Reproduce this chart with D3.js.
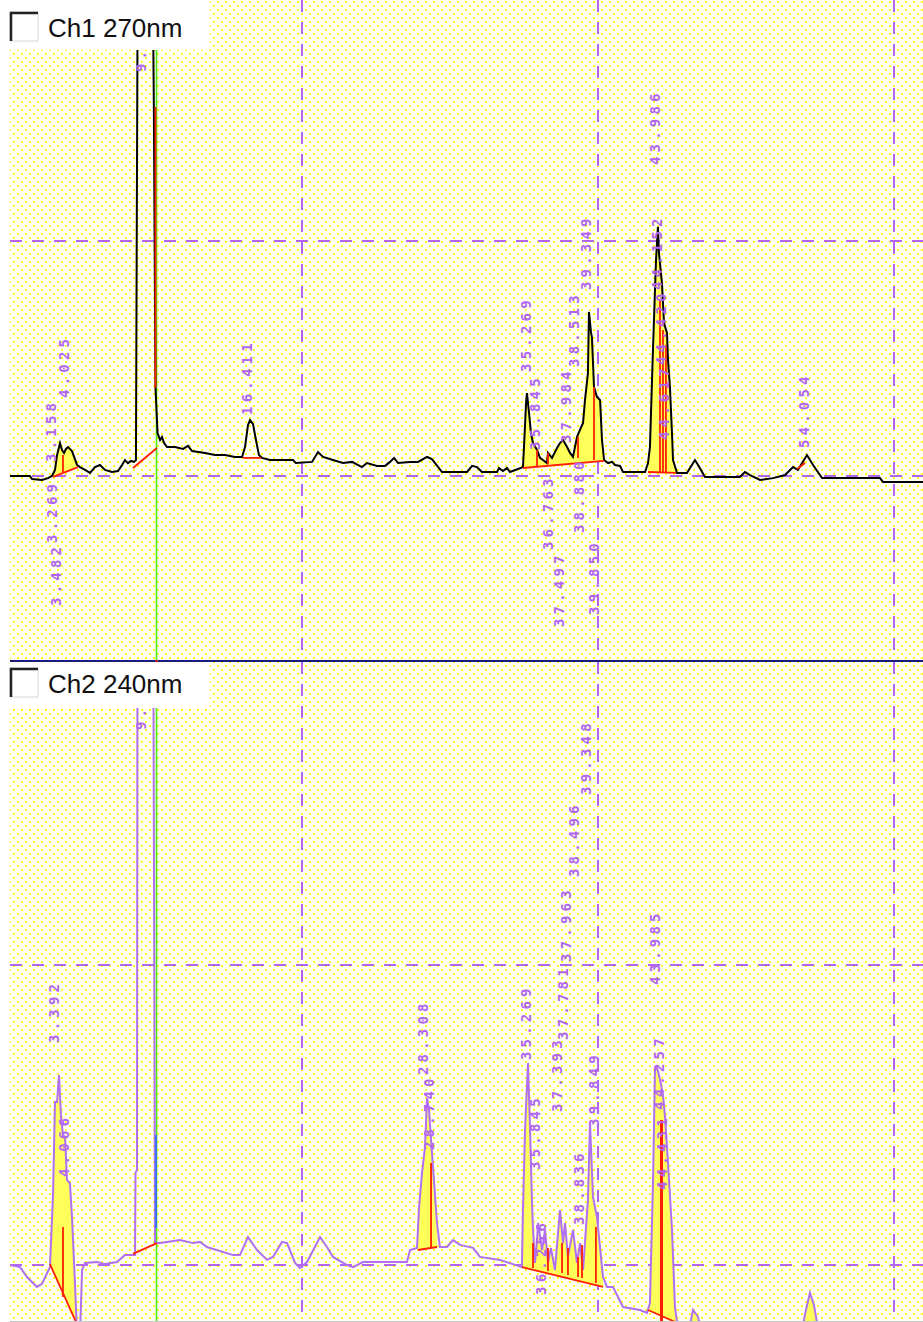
<!DOCTYPE html>
<html>
<head>
<meta charset="utf-8">
<script src="https://cdnjs.cloudflare.com/ajax/libs/d3/7.8.5/d3.min.js"></script>
<style>
  html, body { margin: 0; padding: 0; background: #fff; }
  svg { display: block; }
</style>
</head>
<body>
<div id="chart"></div>
<script>
// ---- chromatogram data: retention time (min), signal (mAU) ----
const timeGrid = [20, 40, 60];
const ch1Grid = [0, 100];
const ch2Grid = [0, 100];

const ch1Title = "Ch1 270nm";
const ch2Title = "Ch2 240nm";

// Ch1 (270 nm) detector trace
const ch1Trace = [[0.27,0],[1.62,0],[1.76,-1.3],[2.43,-1.7],[2.84,-0.9],[3.11,0],[3.31,2.6],[3.45,8.9],[3.65,14.0],[3.78,11.1],[3.92,9.8],[4.05,11.5],[4.19,12.3],[4.46,10.6],[4.80,4.7],[5.00,3.8],[5.34,2.6],[5.68,1.3],[6.01,3.8],[6.35,4.7],[6.69,2.6],[7.16,1.7],[7.57,2.1],[7.84,4.7],[8.04,6.8],[8.24,5.5],[8.45,6.4],[8.65,6.0],[8.78,6.8],[8.92,250],[9.86,250],[9.99,157.0],[10.10,37.4],[10.24,18.3],[10.41,15.3],[10.54,16.6],[10.68,14.0],[10.88,12.3],[11.42,12.3],[11.96,11.5],[12.30,12.8],[12.57,10.6],[13.45,9.8],[14.12,8.9],[14.80,8.9],[15.47,8.1],[15.95,8.1],[16.15,12.3],[16.35,21.7],[16.49,23.8],[16.69,22.1],[16.89,15.3],[17.09,8.9],[17.30,7.7],[17.84,6.8],[19.39,6.8],[19.59,5.5],[20.68,6.0],[21.08,10.2],[21.42,8.1],[22.09,6.8],[22.77,5.5],[23.38,6.0],[24.05,3.8],[24.39,5.5],[25.07,4.3],[25.61,4.3],[25.95,6.0],[26.22,7.7],[26.49,5.5],[27.30,6.0],[27.84,6.0],[28.45,8.1],[28.78,7.2],[29.46,1.7],[31.15,1.7],[31.49,4.3],[31.82,3.8],[32.16,1.7],[33.18,1.7],[33.31,3.4],[33.58,2.1],[33.85,3.4],[34.05,1.7],[34.59,3.0],[34.93,3.8],[35.00,12.3],[35.14,31.1],[35.20,35.3],[35.34,26.8],[35.47,18.3],[35.61,14.0],[35.88,11.1],[36.08,7.7],[36.28,6.8],[36.55,5.5],[36.62,9.8],[36.89,7.7],[37.23,11.9],[37.43,14.0],[37.64,15.3],[37.91,12.3],[38.11,9.8],[38.31,8.1],[38.58,16.6],[38.78,19.6],[38.99,22.6],[39.12,32.3],[39.32,43.8],[39.39,69.8],[39.53,60.9],[39.59,59.1],[39.73,37.9],[39.93,33.6],[40.14,32.3],[40.27,15.3],[40.41,6.8],[40.68,5.5],[40.95,6.0],[41.15,4.7],[41.49,4.3],[41.69,1.7],[43.18,1.7],[43.38,5.5],[43.51,12.3],[43.65,40.9],[43.72,54.9],[43.92,91.9],[44.05,106.0],[44.12,94.9],[44.32,82.1],[44.46,65.1],[44.66,60.9],[44.73,49.4],[44.86,37.9],[45.00,18.3],[45.07,6.8],[45.34,1.3],[46.01,1.3],[46.55,6.8],[46.76,4.7],[47.23,-0.4],[49.59,-0.4],[49.93,1.7],[50.27,0.4],[50.95,-1.7],[51.82,-0.9],[52.64,0.4],[53.18,3.8],[53.51,2.6],[54.12,8.9],[54.53,4.7],[55.14,-0.9],[59.05,-0.9],[59.26,-2.6],[61.96,-2.6]];

// Ch2 (240 nm) detector trace
const ch2Trace = [[0.27,0],[0.95,-0.7],[1.42,-4.0],[2.09,-7.3],[2.43,-6.3],[2.97,-0.7],[3.18,24.0],[3.31,54.3],[3.45,54.3],[3.58,63.3],[3.72,49.3],[3.85,43.3],[3.99,42.7],[4.12,28.3],[4.32,27.3],[4.46,16.0],[4.66,-6.0],[4.80,-23.3],[5.00,-23.3],[5.14,-1.7],[5.34,0.7],[6.15,1.0],[6.69,0.3],[7.50,1.0],[8.04,3.3],[8.58,3.3],[8.72,3.3],[8.75,30.7],[8.85,31.7],[8.89,250],[9.93,250],[10.07,7.3],[10.41,7.3],[11.76,8.3],[12.64,7.3],[13.11,7.7],[13.58,6.0],[15.34,3.3],[15.81,3.3],[16.35,9.3],[16.96,5.0],[17.64,1.7],[18.04,2.7],[18.65,7.7],[18.99,7.3],[19.53,0.7],[19.86,-1.0],[20.34,1.0],[21.22,9.3],[21.69,6.0],[22.09,2.7],[23.04,0],[23.45,-0.7],[24.12,1.0],[27.09,1.0],[27.30,5.0],[27.77,5.7],[27.91,19.3],[28.11,30.7],[28.31,39.3],[28.45,55.7],[28.58,51.7],[28.72,41.7],[28.85,32.7],[29.12,14.0],[29.32,6.0],[29.80,6.0],[30.20,8.3],[30.68,6.7],[31.55,5.7],[32.03,2.7],[33.38,1.7],[34.86,-0.7],[34.93,18.3],[35.07,45.0],[35.27,67.3],[35.41,45.0],[35.54,20.7],[35.61,11.7],[35.74,0.7],[35.88,8.3],[35.95,14.0],[36.22,5.0],[36.42,11.7],[36.62,0.7],[36.82,5.7],[37.09,-1.7],[37.43,18.3],[37.64,7.3],[37.77,14.0],[37.97,2.7],[38.31,11.7],[38.58,0.7],[38.78,7.3],[38.99,-1.7],[39.32,21.7],[39.46,47.3],[39.66,22.7],[39.93,16.0],[40.20,2.7],[40.34,-4.0],[40.61,-7.3],[41.01,-7.3],[41.69,-14.0],[42.84,-15.0],[43.31,-16.0],[43.51,-12.7],[43.72,28.3],[43.85,65.0],[43.99,66.0],[44.19,61.7],[44.39,56.7],[44.53,49.3],[44.73,34.0],[45.00,11.7],[45.20,-14.0],[45.41,-21.7],[46.08,-23.3],[46.42,-15.0],[46.76,-17.3],[47.03,-23.3],[53.65,-25.0],[54.05,-15.0],[54.32,-9.3],[54.59,-13.3],[55.00,-25.0],[61.96,-26.7]];

// integration windows: [start time, end time, baseline at start, baseline at end, filled, baseline drawn]
const ch1Peaks = [[3.18,4.86,-0.4,3.8,1,1],[8.58,10.20,3.4,11.9,0,1],[16.01,17.23,7.7,7.7,0,1],[34.93,40.41,3.4,6.4,1,1],[43.38,45.27,1.7,1.3,1,1],[53.45,53.99,3.0,5.5,1,1]];
const ch2Peaks = [[2.97,4.73,0.3,-19.0,1,1],[8.58,10.20,3.7,7.3,0,1],[27.84,29.12,5.0,6.0,1,1],[34.86,40.34,-0.7,-7.3,1,1],[43.38,45.54,-15.0,-19.7,1,1],[46.08,47.03,-26.7,-26.7,1,0],[53.65,55.14,-26.7,-26.7,1,0]];

// peak separation lines: [time, from, to]
const ch1Drops = [[3.85,1.7,8.9],[10.10,37.4,157.0],[35.88,4.3,11.1],[36.62,5.1,9.8],[38.65,7.7,16.6],[39.73,6.8,37.9],[44.19,1.3,74.9],[44.39,1.3,62.1],[44.59,1.3,55.7]];
const ch2Drops = [[3.85,-10.7,12.7],[28.72,5.7,34.0],[35.61,-1.0,7.3],[36.62,-2.0,5.7],[37.57,-2.7,7.3],[37.97,-3.3,5.7],[38.65,-4.0,2.7],[38.92,-4.3,6.7],[39.86,-6.0,12.7]];
const ch2MainDrop = [44.29,-20.0,48.3];
const ch2SplitDrop = [10.14,43.3,12.3];
const cursorTime = 10.17;

// retention time labels: [time, label anchor level]
const ch1Labels = [[9.264,171.9],[3.158,6.0],[4.025,33.2],[3.482,-55.3],[3.269,-28.5],[16.411,26.0],[35.269,44.3],[35.845,11.1],[36.763,-31.5],[37.497,-64.3],[37.984,14.0],[38.513,46.4],[38.880,-24.3],[39.349,79.1],[39.850,-59.1],[43.986,132.3],[44.152,79.1],[44.420,47.2],[44.617,15.3],[54.054,11.9]];
const ch2Labels = [[9.264,178.3],[3.392,74.0],[4.066,29.3],[28.308,63.3],[28.740,38.3],[35.269,68.3],[35.845,31.7],[36.256,-10.0],[37.393,51.0],[37.781,75.0],[37.963,101.0],[38.496,129.3],[39.348,156.7],[38.836,13.3],[39.849,46.0],[43.985,93.3],[44.257,51.7],[44.431,25.0]];

// ---- drawing ----
const W = 923, H = 1322;
const PURPLE = "#b066f2", RED = "#ff1e00", YELLOW = "#ffff5a", GREEN = "#4de61e";

const svg = d3.select("#chart").append("svg")
  .attr("width", W).attr("height", H)
  .attr("viewBox", `0 0 ${W} ${H}`);

const defs = svg.append("defs");
const pat = defs.append("pattern").attr("id", "dots")
  .attr("width", 8).attr("height", 8).attr("patternUnits", "userSpaceOnUse");
pat.append("rect").attr("width", 8).attr("height", 8).attr("fill", "#fffff2");
pat.append("rect").attr("x", 1).attr("y", 1).attr("width", 2).attr("height", 2).attr("fill", "#ffff20");
pat.append("rect").attr("x", 5).attr("y", 5).attr("width", 2).attr("height", 2).attr("fill", "#ffff20");

const x = d3.scaleLinear().domain([0, 60]).range([6, 894]);

const panels = [
  { id: "p1", top: 0, bottom: 660, y: d3.scaleLinear().domain([0, 100]).range([476, 241]),
    trace: ch1Trace, peaks: ch1Peaks, drops: ch1Drops, labels: ch1Labels, grid: ch1Grid,
    color: "#000", width: 2, title: ch1Title, titleY: 0, boxH: 50 },
  { id: "p2", top: 662, bottom: 1321, y: d3.scaleLinear().domain([0, 100]).range([1265, 965]),
    trace: ch2Trace, peaks: ch2Peaks, drops: ch2Drops, labels: ch2Labels, grid: ch2Grid,
    color: "#b070f6", width: 2, title: ch2Title, titleY: 656, boxH: 46 }
];

svg.append("rect").attr("x", 10).attr("y", 0).attr("width", W - 10).attr("height", H)
  .attr("fill", "url(#dots)");

function valueAt(trace, t) {
  const i = d3.bisector(d => d[0]).right(trace, t);
  if (i <= 0) return trace[0][1];
  if (i >= trace.length) return trace[trace.length - 1][1];
  const a = trace[i - 1], b = trace[i];
  return a[1] + (b[1] - a[1]) * (t - a[0]) / (b[0] - a[0]);
}

panels.forEach(p => {
  defs.append("clipPath").attr("id", "clip-" + p.id)
    .append("rect").attr("x", 10).attr("y", p.top).attr("width", W - 10).attr("height", p.bottom - p.top);

  const g = svg.append("g").attr("clip-path", `url(#clip-${p.id})`);
  const y = p.y;

  // dashed grid
  g.selectAll(".vg").data(timeGrid).join("line")
    .attr("x1", d => x(d)).attr("x2", d => x(d))
    .attr("y1", p.top).attr("y2", p.bottom)
    .attr("stroke", PURPLE).attr("stroke-width", 2).attr("stroke-dasharray", "12,10");
  g.selectAll(".hg").data(p.grid).join("line")
    .attr("x1", 10).attr("x2", W)
    .attr("y1", d => y(d)).attr("y2", d => y(d))
    .attr("stroke", PURPLE).attr("stroke-width", 2).attr("stroke-dasharray", "12,10");

  // cursor
  g.append("line").attr("x1", x(cursorTime)).attr("x2", x(cursorTime))
    .attr("y1", p.top).attr("y2", p.bottom)
    .attr("stroke", GREEN).attr("stroke-width", 1.6);

  // integrated peak areas
  const area = d3.area().x(d => x(d.t)).y0(d => y(d.base)).y1(d => y(d.val));
  p.peaks.filter(k => k[4]).forEach(([t0, t1, b0, b1]) => {
    const ts = [t0, ...p.trace.map(d => d[0]).filter(t => t > t0 && t < t1), t1];
    const pts = ts.map(t => ({ t, base: b0 + (b1 - b0) * (t - t0) / (t1 - t0), val: valueAt(p.trace, t) }));
    g.append("path").attr("d", area(pts)).attr("fill", YELLOW);
  });

  // trace
  const line = d3.line().x(d => x(d[0])).y(d => y(d[1]));
  g.append("path").datum(p.trace).attr("d", line)
    .attr("fill", "none").attr("stroke", p.color).attr("stroke-width", p.width)
    .attr("stroke-linejoin", "miter");

  // baselines
  p.peaks.filter(k => k[5]).forEach(([t0, t1, b0, b1]) => {
    g.append("line").attr("x1", x(t0)).attr("x2", x(t1)).attr("y1", y(b0)).attr("y2", y(b1))
      .attr("stroke", RED).attr("stroke-width", 1.8);
  });

  // drop lines
  g.selectAll(".drop").data(p.drops).join("line")
    .attr("x1", d => x(d[0])).attr("x2", d => x(d[0]))
    .attr("y1", d => y(d[1])).attr("y2", d => y(d[2]))
    .attr("stroke", RED).attr("stroke-width", 1.8);

  if (p.id === "p2") {
    g.append("line").attr("x1", x(ch2MainDrop[0])).attr("x2", x(ch2MainDrop[0]))
      .attr("y1", y(ch2MainDrop[1])).attr("y2", y(ch2MainDrop[2]))
      .attr("stroke", RED).attr("stroke-width", 3);
    g.append("line").attr("x1", x(ch2SplitDrop[0])).attr("x2", x(ch2SplitDrop[0]))
      .attr("y1", y(ch2SplitDrop[1])).attr("y2", y(ch2SplitDrop[2]))
      .attr("stroke", "#2f6fff").attr("stroke-width", 1.8);
  }

  // retention time labels
  g.selectAll(".rt").data(p.labels).join("text")
    .attr("transform", d => `translate(${x(d[0]) + 3},${y(d[1])}) rotate(-90)`)
    .attr("font-family", "'DejaVu Sans Mono', 'Liberation Mono', monospace")
    .attr("font-size", 14).attr("font-weight", "bold").attr("letter-spacing", 4.2)
    .attr("fill", PURPLE)
    .text(d => d[0].toFixed(3));

  // channel title box
  const tb = svg.append("g").attr("transform", `translate(0,${p.titleY})`);
  tb.append("rect").attr("x", 10).attr("y", p.id === "p1" ? 0 : 6).attr("width", 200)
    .attr("height", p.boxH).attr("fill", "#fff");
  tb.append("rect").attr("x", 10).attr("y", 12).attr("width", 28).attr("height", 29)
    .attr("fill", "#fff").attr("stroke", "#d8d8d8").attr("stroke-width", 1);
  tb.append("path").attr("d", "M11,41 V13 H38").attr("fill", "none")
    .attr("stroke", "#222").attr("stroke-width", 2.5);
  tb.append("text").attr("x", 48).attr("y", 37)
    .attr("font-family", "'Liberation Sans', Arial, sans-serif")
    .attr("font-size", 26).attr("fill", "#111")
    .text(p.title);
});

// panel divider and bottom edge
svg.append("line").attr("x1", 10).attr("x2", W).attr("y1", 661).attr("y2", 661)
  .attr("stroke", "#1c1c78").attr("stroke-width", 2);
svg.append("circle").attr("cx", x(cursorTime)).attr("cy", 661).attr("r", 1.2).attr("fill", RED);
svg.append("line").attr("x1", 10).attr("x2", W).attr("y1", 1321.5).attr("y2", 1321.5)
  .attr("stroke", "#c8c8c8").attr("stroke-width", 1);
</script>
</body>
</html>
